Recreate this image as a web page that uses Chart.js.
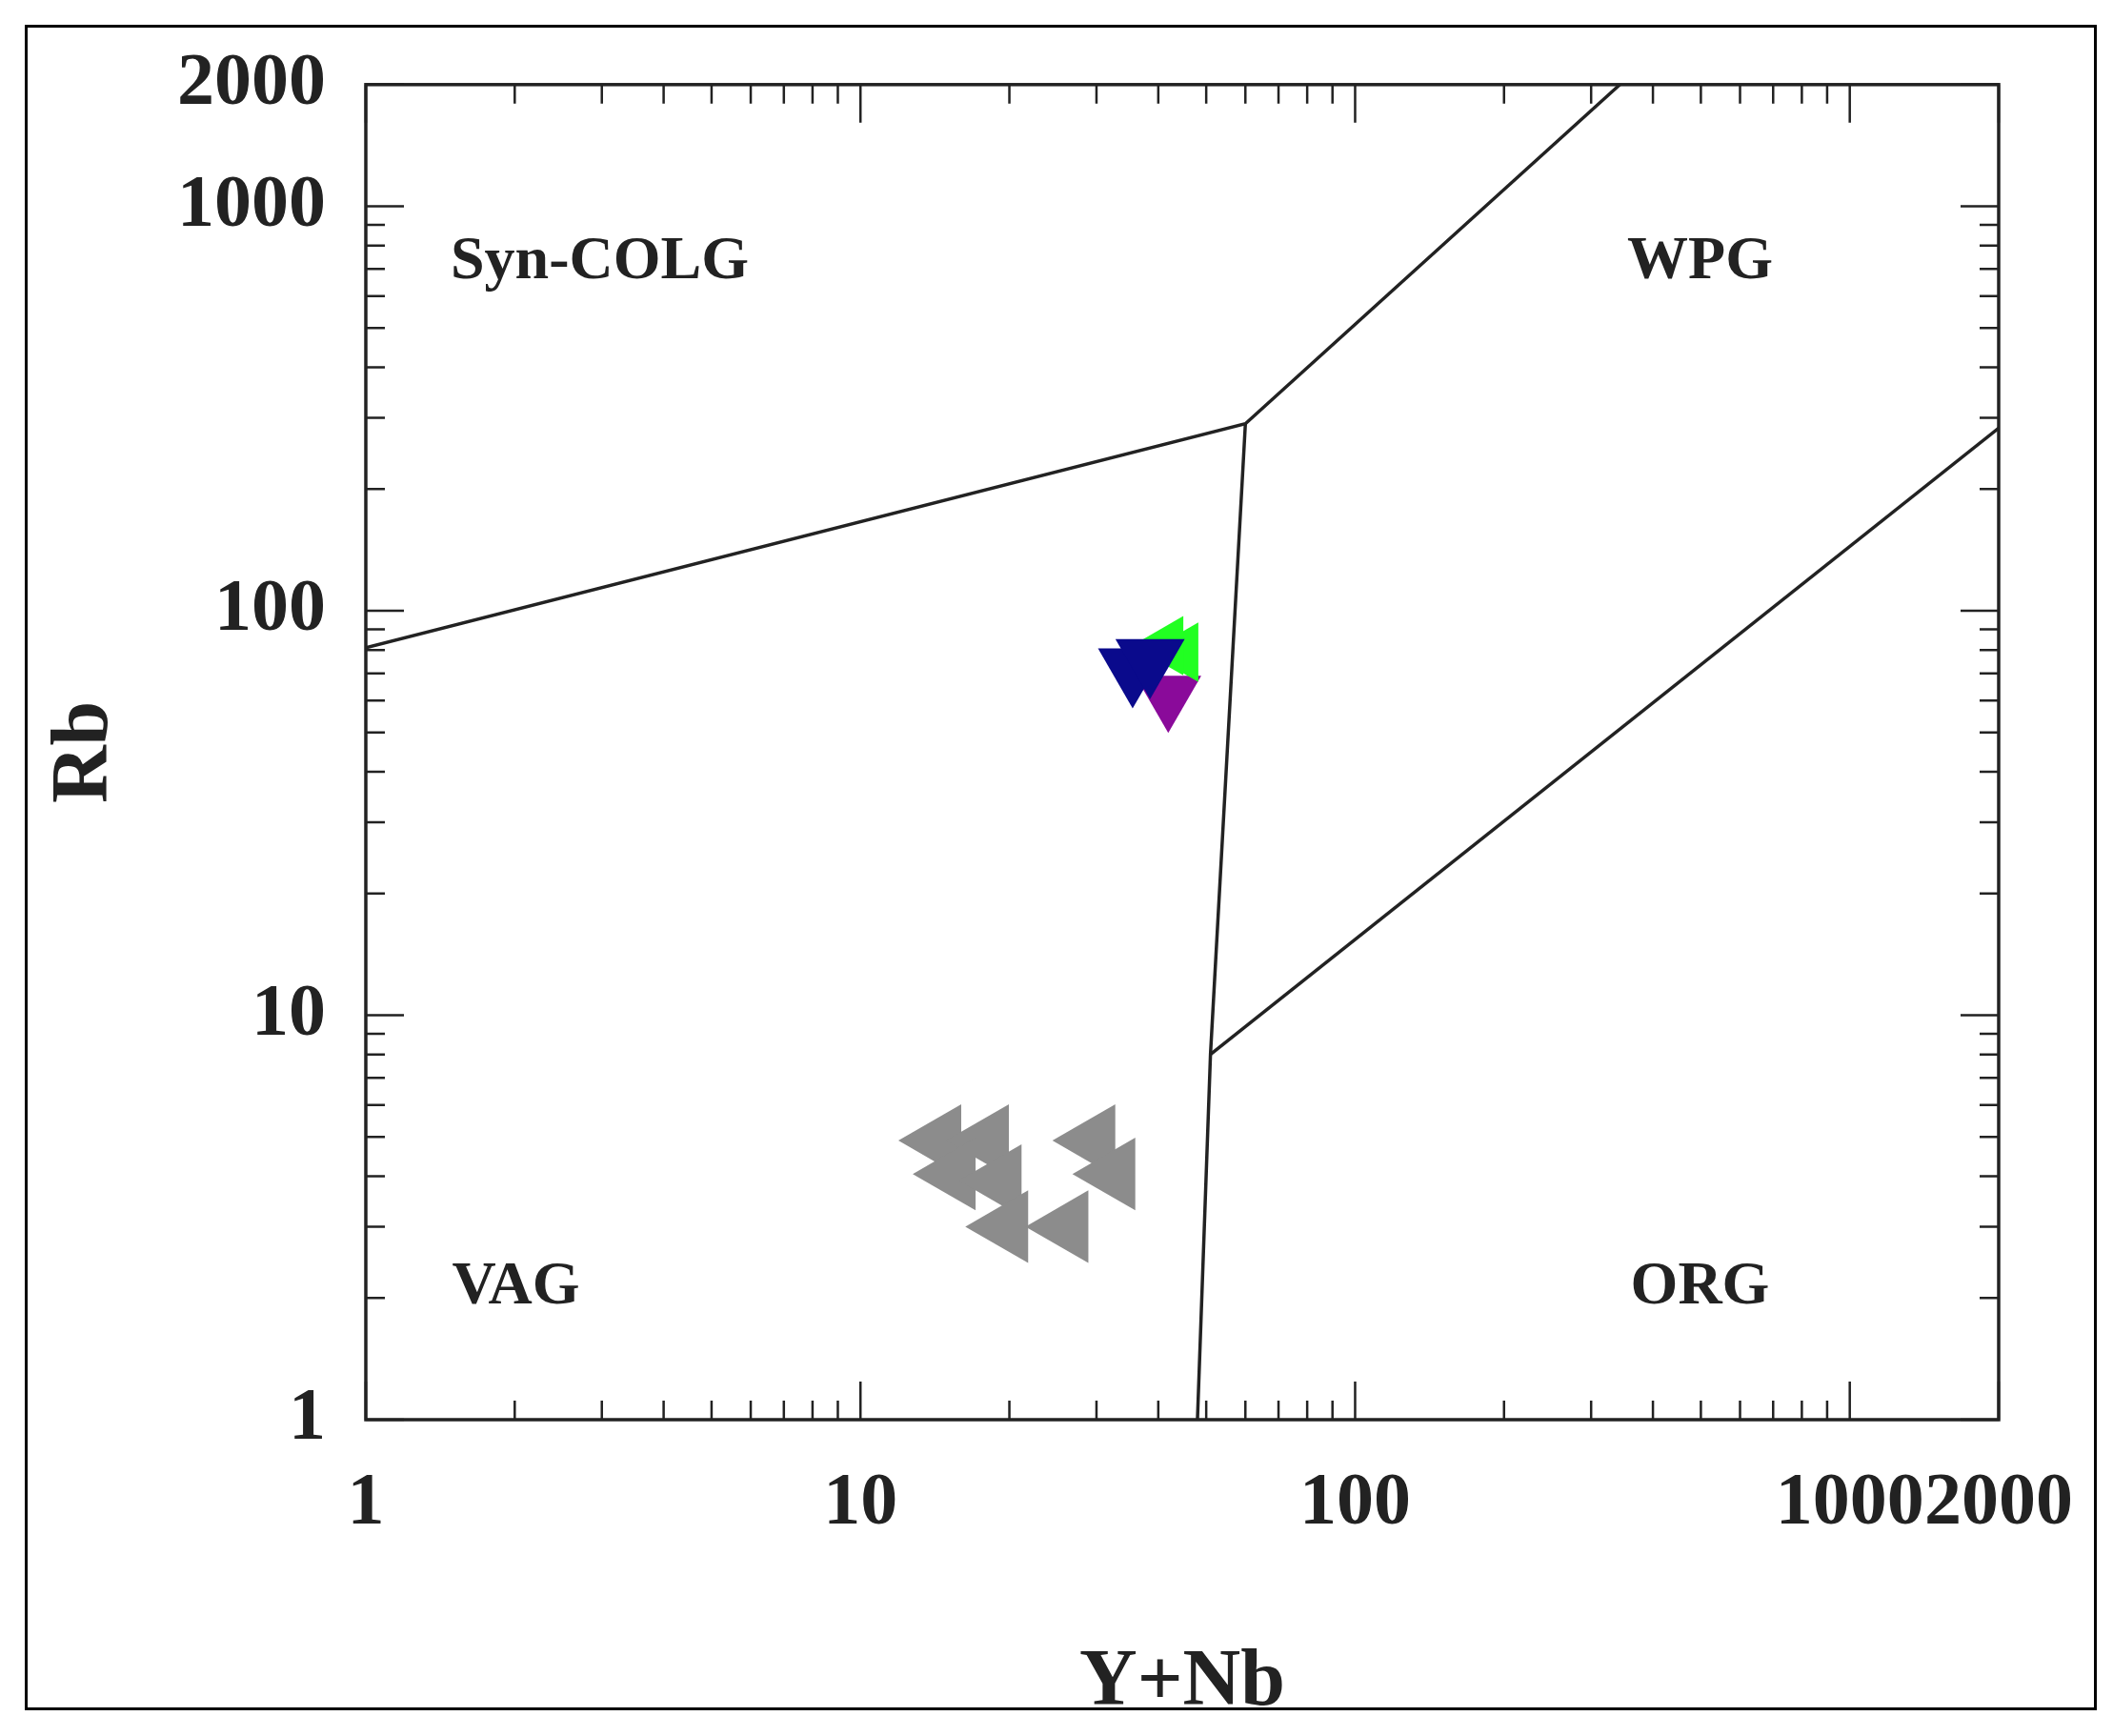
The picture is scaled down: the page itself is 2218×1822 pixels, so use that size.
<!DOCTYPE html>
<html>
<head>
<meta charset="utf-8">
<script src="https://cdn.jsdelivr.net/npm/chart.js@4.4.1/dist/chart.umd.min.js"></script>
<style>
  html, body { margin: 0; padding: 0; background: #fff; }
  #frame { position: absolute; left: 26px; top: 26px; width: 2169px; height: 1763px; border: 3px solid #000; }
  #wrap { position: absolute; left: 0; top: 0; width: 2218px; height: 1822px; }
</style>
</head>
<body>
<div id="frame"></div>
<div id="wrap"><canvas id="c" width="2218" height="1822"></canvas></div>
<script>
// field boundaries (Pearce et al.)
var lineUpper = [{x: 1, y: 81}, {x: 60, y: 290}, {x: 343, y: 2000}];
var lineMiddle = [{x: 60, y: 290}, {x: 51, y: 8}, {x: 48, y: 1}];
var lineLower = [{x: 51, y: 8}, {x: 2000, y: 283}];

// samples
var grayX = [14.5, 18.1, 29.7, 15.5, 19.2, 32.6, 19.8, 26.2];
var grayY = [4.9, 4.9, 4.9, 4.05, 3.9, 4.05, 3.0, 3.0];
var blueX = [35.5, 38.5];
var blueY = [72, 76];
var greenX = [44.5, 41.5];
var greenY = [79, 82];
var purpleX = [41.9];
var purpleY = [62];

var xLabels = [1, 10, 100, 1000, 2000];
var yLabels = [1, 10, 100, 1000, 2000];
var fields = [
  {text: 'Syn-COLG', x: 2.97, y: 725},
  {text: 'WPG', x: 498, y: 725},
  {text: 'VAG', x: 2.01, y: 2.12},
  {text: 'ORG', x: 498, y: 2.12}
];

function pts(xs, ys) {
  return xs.map(function (v, i) { return {x: v, y: ys[i]}; });
}
function logTicks(max) {
  var t = [];
  for (var d = 1; d <= 1000; d *= 10) {
    for (var k = 1; k < 10; k++) { if (d * k <= max) t.push(d * k); }
  }
  if (t.indexOf(max) < 0) t.push(max);
  return t;
}

var serif = '"Liberation Serif", "Times New Roman", serif';

var ticksPlugin = {
  id: 'ticksPlugin',
  afterDatasetsDraw: function (chart) {
    var ctx = chart.ctx, a = chart.chartArea;
    var xs = chart.scales.x, ys = chart.scales.y;
    ctx.save();
    ctx.strokeStyle = '#222';
    ctx.lineWidth = 2.5;
    logTicks(2000).forEach(function (v) {
      var major = xLabels.indexOf(v) >= 0;
      var len = major ? 40 : 20;
      var px = xs.getPixelForValue(v);
      ctx.beginPath();
      ctx.moveTo(px, a.bottom); ctx.lineTo(px, a.bottom - len);
      ctx.moveTo(px, a.top); ctx.lineTo(px, a.top + len);
      ctx.stroke();
      var py = ys.getPixelForValue(v);
      ctx.beginPath();
      ctx.moveTo(a.left, py); ctx.lineTo(a.left + len, py);
      ctx.moveTo(a.right, py); ctx.lineTo(a.right - len, py);
      ctx.stroke();
    });
    ctx.lineWidth = 3.5;
    ctx.strokeRect(a.left, a.top, a.right - a.left, a.bottom - a.top);
    ctx.fillStyle = '#222';
    ctx.font = 'bold 64px ' + serif;
    ctx.textAlign = 'center';
    ctx.textBaseline = 'middle';
    fields.forEach(function (f) {
      ctx.fillText(f.text, xs.getPixelForValue(f.x), ys.getPixelForValue(f.y));
    });
    ctx.restore();
  }
};

function boundary(data) {
  return {type: 'scatter', data: data, showLine: true, borderColor: '#222', borderWidth: 3.5,
          pointRadius: 0, fill: false, tension: 0};
}

new Chart(document.getElementById('c'), {
  type: 'scatter',
  data: {
    datasets: [
      boundary(lineUpper), boundary(lineMiddle), boundary(lineLower),
      {data: pts(grayX, grayY), pointStyle: 'triangle', rotation: -90, pointRadius: 44,
       backgroundColor: '#8c8c8c', borderColor: '#8c8c8c', borderWidth: 0, pointHoverRadius: 44},
      {data: pts(blueX, blueY), pointStyle: 'triangle', rotation: -60, pointRadius: 42,
       backgroundColor: '#0a0a8c', borderColor: '#0a0a8c', borderWidth: 0},
      {data: pts(greenX, greenY), pointStyle: 'triangle', rotation: 30, pointRadius: 36,
       backgroundColor: '#22ff22', borderColor: '#22ff22', borderWidth: 0},
      {data: pts(purpleX, purpleY), pointStyle: 'triangle', rotation: 180, pointRadius: 40,
       backgroundColor: '#8a0a9a', borderColor: '#8a0a9a', borderWidth: 0}
    ]
  },
  options: {
    responsive: false,
    animation: false,
    layout: {padding: {left: 0, right: 108, top: 82, bottom: 0}},
    plugins: {legend: {display: false}, tooltip: {enabled: false}},
    scales: {
      x: {
        type: 'logarithmic', min: 1, max: 2000,
        afterBuildTicks: function (s) { s.ticks = logTicks(2000).map(function (v) { return {value: v}; }); },
        afterFit: function (s) { s.height = 332; },
        grid: {display: false, drawTicks: false},
        border: {display: false},
        ticks: {
          autoSkip: false, maxRotation: 0, padding: 42, color: '#222',
          font: {family: serif, size: 78, weight: 'bold'},
          callback: function (v) { return xLabels.indexOf(v) >= 0 ? String(v) : ''; }
        },
        title: {display: true, text: 'Y+Nb', color: '#222', padding: {top: 20},
                font: {family: serif, size: 84, weight: 'bold'}}
      },
      y: {
        type: 'logarithmic', min: 1, max: 2000,
        afterBuildTicks: function (s) { s.ticks = logTicks(2000).map(function (v) { return {value: v}; }); },
        afterFit: function (s) { s.width = 384; },
        grid: {display: false, drawTicks: false},
        border: {display: false},
        ticks: {
          autoSkip: false, padding: 42, color: '#222',
          font: {family: serif, size: 78, weight: 'bold'},
          callback: function (v) { return yLabels.indexOf(v) >= 0 ? String(v) : ''; }
        },
        title: {display: true, text: 'Rb', color: '#222', padding: {top: 40, bottom: 30},
                font: {family: serif, size: 84, weight: 'bold'}}
      }
    }
  },
  plugins: [ticksPlugin]
});
</script>
</body>
</html>
